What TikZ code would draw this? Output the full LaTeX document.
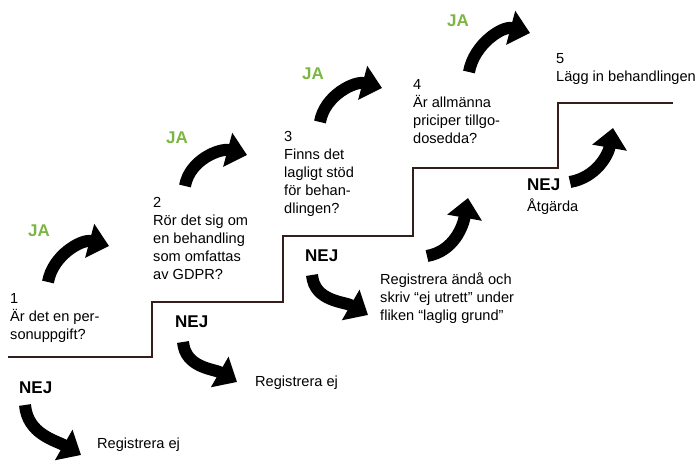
\documentclass[tikz,border=0pt]{standalone}
\usepackage{fontspec}
\setmainfont{Liberation Sans}
\usetikzlibrary{arrows.meta}
\definecolor{JaGreen}{RGB}{124,181,66}
\definecolor{StairBrown}{RGB}{52,30,28}

\begin{document}
\begin{tikzpicture}[x=1pt,y=1pt]
  \useasboundingbox (0,0) rectangle (697,461);
  \tikzstyle{TextStyle}=[anchor=base west,inner sep=0pt,align=left,
                         font=\fontsize{14.6}{18}\selectfont]
  \tikzstyle{JaStyle}=[anchor=base west,inner sep=0pt,text=JaGreen,
                       font=\fontsize{17}{20}\selectfont\bfseries]
  \tikzstyle{NejStyle}=[anchor=base west,inner sep=0pt,
                        font=\fontsize{17}{20}\selectfont\bfseries]
  \tikzstyle{ArrowStyle}=[line width=12pt,-{Triangle[width=34pt,length=20pt]}]
  % the stairs
  \draw[StairBrown,line width=2.5pt]
    (8,104) -- (152,104) -- (152,159) -- (283,159) -- (283,225)
    -- (413,225) -- (413,293) -- (558,293) -- (558,358) -- (673,358);
  % questions (base = last line)
  \node[TextStyle] (Q1) at (10,121) {1\\Är det en per-\\sonuppgift?};
  \node[TextStyle] (Q2) at (153,181) {2\\Rör det sig om\\en behandling\\som omfattas\\av GDPR?};
  \node[TextStyle] (Q3) at (284,247) {3\\Finns det\\lagligt stöd\\för behan-\\dlingen?};
  \node[TextStyle] (Q4) at (413,317) {4\\Är allmänna\\priciper tillgo-\\dosedda?};
  \node[TextStyle] (Q5) at (556,379) {5\\Lägg in behandlingen};
  % answers
  \node[JaStyle] (JA1) at (28,224) {JA};
  \node[JaStyle] (JA2) at (166,317) {JA};
  \node[JaStyle] (JA3) at (302,381) {JA};
  \node[JaStyle] (JA4) at (447,434) {JA};
  \node[NejStyle] (NEJ1) at (19,67) {NEJ};
  \node[NejStyle] (NEJ2) at (175,133) {NEJ};
  \node[NejStyle] (NEJ3) at (305,199) {NEJ};
  \node[NejStyle] (NEJ4) at (527,270) {NEJ};
  \node[TextStyle] (R1) at (97,12) {Registrera ej};
  \node[TextStyle] (R2) at (255,74) {Registrera ej};
  \node[TextStyle] (R3) at (380,140) {Registrera ändå och\\skriv “ej utrett” under\\fliken “laglig grund”};
  \node[TextStyle] (A4) at (527,249) {Åtgärda};
  % arrow ends
  \coordinate (J1s) at (48,179);   \coordinate (J1e) at (109,215);
  \coordinate (J2s) at (185,275);  \coordinate (J2e) at (247,306);
  \coordinate (J3s) at (320,339);  \coordinate (J3e) at (382,373);
  \coordinate (J4s) at (469,389);  \coordinate (J4e) at (530,428);
  \coordinate (N1s) at (25,56);    \coordinate (N1e) at (81,6);
  \coordinate (N2s) at (183,119);  \coordinate (N2e) at (237,79);
  \coordinate (N3s) at (312,186);  \coordinate (N3e) at (368,146);
  \coordinate (U1s) at (427,205);  \coordinate (U1e) at (468,263);
  \coordinate (U2s) at (570,279);  \coordinate (U2e) at (613,333);
  \draw[ArrowStyle] (J1s) to[out=80,in=165] (J1e);
  \draw[ArrowStyle] (J2s) to[out=80,in=165] (J2e);
  \draw[ArrowStyle] (J3s) to[out=80,in=165] (J3e);
  \draw[ArrowStyle] (J4s) to[out=80,in=165] (J4e);
  \draw[ArrowStyle] (N1s) to[out=-85,in=150] (N1e);
  \draw[ArrowStyle] (N2s) to[out=-85,in=150] (N2e);
  \draw[ArrowStyle] (N3s) to[out=-85,in=150] (N3e);
  \draw[ArrowStyle] (U1s) to[out=10,in=-100] (U1e);
  \draw[ArrowStyle] (U2s) to[out=10,in=-100] (U2e);
\end{tikzpicture}
\end{document}
